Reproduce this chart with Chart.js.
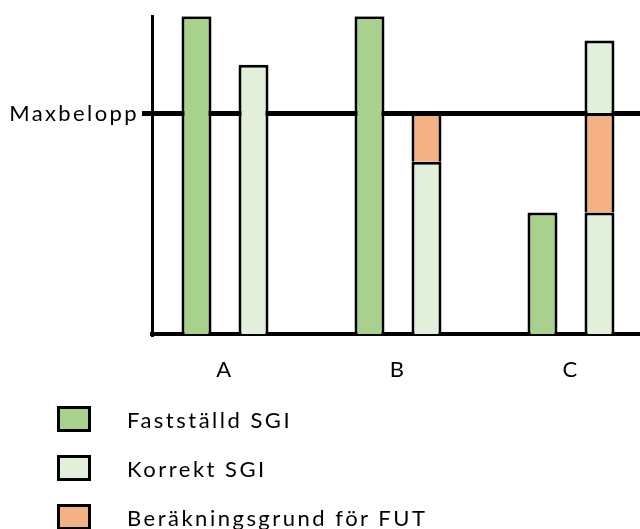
<!DOCTYPE html>
<html>
<head>
<meta charset="utf-8">
<script src="https://cdn.jsdelivr.net/npm/chart.js@4/dist/chart.umd.min.js"></script>
<style>
  html, body { margin: 0; padding: 0; background: #fff; overflow: hidden; }
  #wrap { position: relative; width: 640px; height: 529px; overflow: hidden; }
  #chart { position: absolute; left: 0; top: 0; }
  .item { position: absolute; left: 57px; width: 560px; height: 26px; }
  .box { position: absolute; left: 0; top: 0; width: 34px; height: 26px; border: 3px solid #000; box-sizing: border-box; }
  .lbl { position: absolute; left: 70px; top: 1px; white-space: nowrap; font-family: Lato, sans-serif; font-size: 22px; letter-spacing: 2.5px; line-height: 26px; color: #000; }
</style>
</head>
<body>
<div id="wrap">
  <canvas id="chart" width="640" height="529"></canvas>
  <div id="legend"></div>
</div>
<script>
// ---- data ----
const categories = ['A', 'B', 'C'];
const faststalldSGI = [144, 144, 55];
const korrektSGI = [122, 78, 55];
const futGrund = [null, 22, 45];
const korrektOverMax = [null, null, 33];
const yTickValues = [100];
const yTickLabels = ['Maxbelopp'];
const yMax = 144;
const seriesLabels = ['Fastställd SGI', 'Korrekt SGI', 'Beräkningsgrund för FUT'];

// ---- styles ----
const GREEN = '#A9D18E', LIGHT = '#E2EFDA', ORANGE = '#F4B183';
const toPts = arr => arr.map((v, i) => ({ x: i, y: v }));
const common = { borderColor: '#000', borderWidth: 3, categoryPercentage: 0.659, barPercentage: 0.526 };

const datasets = [
  Object.assign({ label: seriesLabels[0], data: toPts(faststalldSGI), backgroundColor: GREEN, stack: 'f' }, common),
  Object.assign({ label: seriesLabels[1], data: toPts(korrektSGI), backgroundColor: LIGHT, stack: 'k' }, common),
  Object.assign({ label: seriesLabels[2], data: toPts(futGrund), backgroundColor: ORANGE, stack: 'k' }, common),
  Object.assign({ label: seriesLabels[1], data: toPts(korrektOverMax), backgroundColor: LIGHT, stack: 'k', inLegend: false }, common)
];

const spacingPlugin = {
  id: 'spacing',
  beforeDraw(chart) { chart.ctx.letterSpacing = '2.4px'; },
  afterDraw(chart) { chart.ctx.letterSpacing = '0px'; }
};

const font = { family: 'Lato', size: 22 };

const chart = new Chart(document.getElementById('chart'), {
  type: 'bar',
  data: { datasets },
  plugins: [spacingPlugin],
  options: {
    responsive: false,
    animation: false,
    devicePixelRatio: 1,
    layout: { padding: { top: 16, left: 0, right: 0, bottom: 0 } },
    plugins: { legend: { display: false }, tooltip: { enabled: false } },
    scales: {
      x: {
        type: 'linear',
        min: -0.422,
        max: 2.399,
        offset: false,
        z: 1,
        grid: { display: false, drawTicks: false },
        border: { display: true, color: '#000', width: 4 },
        ticks: {
          autoSkip: false, maxRotation: 0, minRotation: 0, padding: 23, color: '#000', font,
          callback: (v) => categories[v]
        },
        afterBuildTicks: s => { s.ticks = categories.map((c, i) => ({ value: i })); },
        afterFit: s => { s.height = 529 - 334; }
      },
      y: {
        type: 'linear',
        stacked: true,
        min: 0,
        max: yMax,
        z: 1,
        grid: { display: true, color: '#000', lineWidth: 5, drawTicks: true, tickLength: 10, tickColor: '#000', tickWidth: 5 },
        border: { display: true, color: '#000', width: 3 },
        ticks: {
          padding: 3, labelOffset: 1, color: '#000', font,
          callback: (v, i) => yTickLabels[i]
        },
        afterBuildTicks: s => { s.ticks = yTickValues.map(v => ({ value: v })); },
        afterFit: s => { s.width = 152; }
      }
    }
  }
});

// ---- legend (HTML, generated from the chart's datasets) ----
const legend = document.getElementById('legend');
const rowTops = [406, 455, 503.5];
chart.data.datasets.filter(d => d.inLegend !== false).forEach((d, i) => {
  const item = document.createElement('div');
  item.className = 'item';
  item.style.top = rowTops[i] + 'px';
  const box = document.createElement('div');
  box.className = 'box';
  box.style.background = d.backgroundColor;
  const lbl = document.createElement('div');
  lbl.className = 'lbl';
  lbl.textContent = d.label;
  item.appendChild(box);
  item.appendChild(lbl);
  legend.appendChild(item);
});
</script>
</body>
</html>
